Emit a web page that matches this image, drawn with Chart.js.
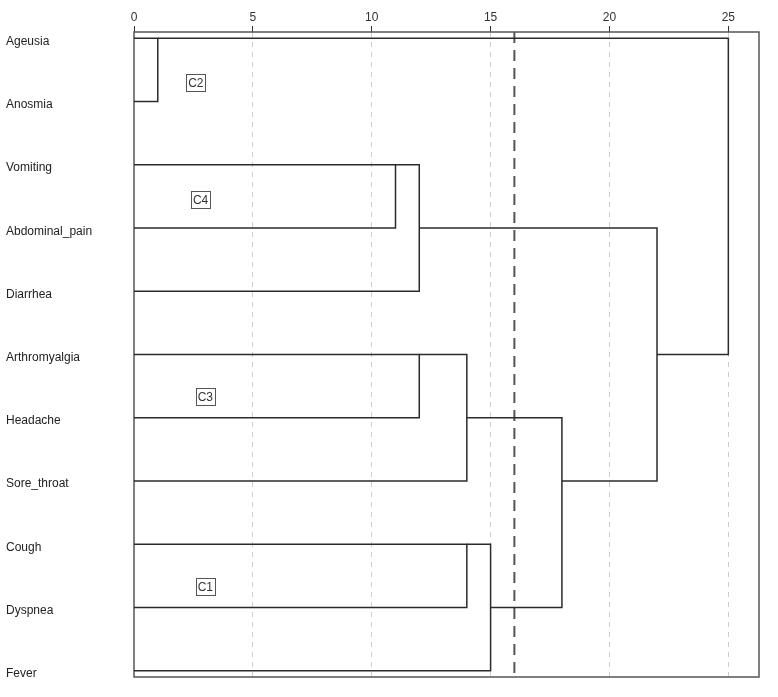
<!DOCTYPE html>
<html>
<head>
<meta charset="utf-8">
<script src="https://cdn.jsdelivr.net/npm/chart.js@4.4.1/dist/chart.umd.min.js"></script>
<style>
  html, body { margin: 0; padding: 0; background: #fff; }
  #wrap { width: 778px; height: 697px; }
</style>
</head>
<body>
<div id="wrap"><canvas id="dendro"></canvas></div>
<script>
// leaves, top to bottom
const leaves = ['Ageusia', 'Anosmia', 'Vomiting', 'Abdominal_pain', 'Diarrhea',
  'Arthromyalgia', 'Headache', 'Sore_throat', 'Cough', 'Dyspnea', 'Fever'];

// merges: node ids 0..10 are leaves, merge k creates node 11 + k
const mergeLeft   = [0, 2, 12, 5, 14, 8, 16, 15, 13, 11];
const mergeRight  = [1, 3, 4, 6, 7, 9, 10, 17, 18, 19];
const mergeHeight = [1, 11, 12, 12, 14, 14, 15, 18, 22, 25];

const distanceTicks = [0, 5, 10, 15, 20, 25];
const cutHeight = 16;

// cluster tags (rescaled distance, row)
const clusterNames = ['C2', 'C4', 'C3', 'C1'];
const clusterDist  = [2.6, 2.8, 3.0, 3.0];
const clusterRow   = [0.7, 2.55, 5.67, 8.67];

const FONT = 'Arial, "Liberation Sans", sans-serif';

// node positions: leaves at x=0, merged node sits on floor of the midpoint row
const nodeX = leaves.map(() => 0);
const nodeY = leaves.map((_, i) => i);
const linkSets = [];
mergeHeight.forEach((h, k) => {
  const a = mergeLeft[k], b = mergeRight[k];
  linkSets.push({
    data: [
      { x: nodeX[a], y: nodeY[a] },
      { x: h, y: nodeY[a] },
      { x: h, y: nodeY[b] },
      { x: nodeX[b], y: nodeY[b] }
    ],
    showLine: true,
    borderColor: '#2b2b2b',
    borderWidth: 1.5,
    pointRadius: 0,
    fill: false
  });
  nodeX.push(h);
  nodeY.push(Math.floor((nodeY[a] + nodeY[b]) / 2));
});

const yMin = -0.1, yMax = leaves.length - 1 + 0.1;

const cutSet = {
  data: [{ x: cutHeight, y: yMin }, { x: cutHeight, y: yMax }],
  showLine: true,
  borderColor: '#555',
  borderWidth: 2,
  borderDash: [11, 7],
  pointRadius: 0
};

// frame round the plot area
const framePlugin = {
  id: 'frame',
  beforeDatasetsDraw(chart) {
    const { ctx, chartArea: a } = chart;
    ctx.save();
    ctx.strokeStyle = '#555';
    ctx.lineWidth = 1.5;
    ctx.strokeRect(a.left, a.top, a.right - a.left, a.bottom - a.top);
    ctx.restore();
  }
};

// boxed cluster tags
const tagPlugin = {
  id: 'tags',
  afterDatasetsDraw(chart) {
    const { ctx, scales } = chart;
    ctx.save();
    ctx.font = '12px ' + FONT;
    ctx.textAlign = 'center';
    ctx.textBaseline = 'middle';
    clusterNames.forEach((name, i) => {
      const cx = scales.x.getPixelForValue(clusterDist[i]);
      const cy = scales.y.getPixelForValue(clusterRow[i]);
      const w = ctx.measureText(name).width + 4;
      const h = 17;
      ctx.fillStyle = '#fff';
      ctx.fillRect(cx - w / 2, cy - h / 2, w, h);
      ctx.strokeStyle = '#555';
      ctx.lineWidth = 1;
      ctx.strokeRect(Math.round(cx - w / 2) + 0.5, Math.round(cy - h / 2) + 0.5, Math.round(w), h);
      ctx.fillStyle = '#333';
      ctx.fillText(name, cx, cy + 1);
    });
    ctx.restore();
  }
};

new Chart(document.getElementById('dendro'), {
  type: 'scatter',
  data: { datasets: [...linkSets, cutSet] },
  options: {
    responsive: true,
    maintainAspectRatio: false,
    animation: false,
    layout: { padding: { left: 6, top: 0, right: 19, bottom: 20 } },
    plugins: {
      legend: { display: false },
      tooltip: { enabled: false }
    },
    scales: {
      x: {
        type: 'linear',
        position: 'top',
        min: 0,
        max: 26.29,
        afterBuildTicks(scale) {
          scale.ticks = distanceTicks.map(v => ({ value: v }));
        },
        afterFit(scale) { scale.height = 32; },
        ticks: {
          color: '#333',
          font: { family: FONT, size: 12 },
          padding: 1,
          maxRotation: 0
        },
        grid: {
          color: ctx => (ctx.tick && ctx.tick.value === 0 ? 'rgba(0,0,0,0)' : '#cfcfcf'),
          lineWidth: 1,
          tickLength: 6,
          tickColor: '#333',
          tickWidth: 1
        },
        border: { display: false, dash: [5, 5] }
      },
      y: {
        type: 'linear',
        position: 'left',
        reverse: true,
        min: yMin,
        max: yMax,
        // labels sit a little below their branch line
        afterBuildTicks(scale) {
          scale.ticks = leaves.map((_, i) => ({ value: i + 0.05 }));
        },
        afterFit(scale) { scale.width = 128; },
        ticks: {
          crossAlign: 'far',
          color: '#222',
          font: { family: FONT, size: 12 },
          callback: v => leaves[Math.round(v)]
        },
        grid: { display: false },
        border: { display: false }
      }
    }
  },
  plugins: [framePlugin, tagPlugin]
});
</script>
</body>
</html>
